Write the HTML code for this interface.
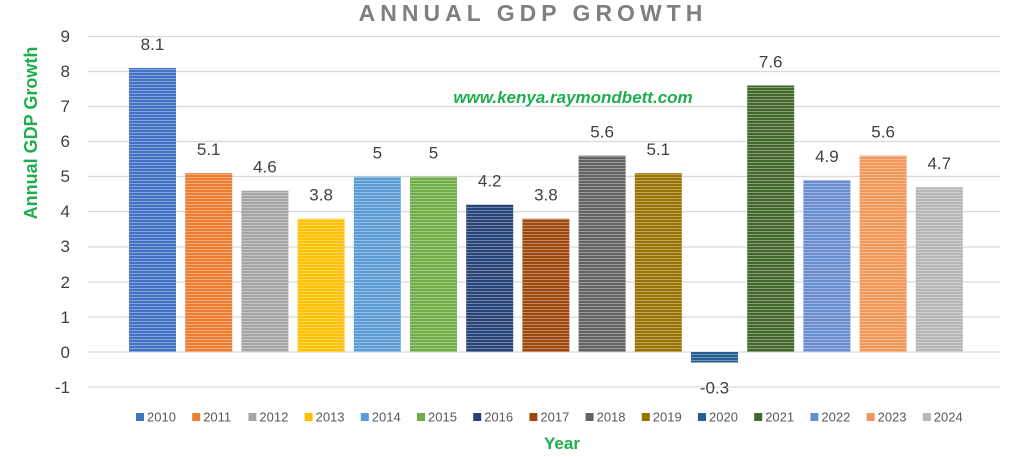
<!DOCTYPE html>
<html><head><meta charset="utf-8"><style>
html,body{margin:0;padding:0;background:#fff;width:1024px;height:457px;overflow:hidden}
svg{display:block;font-family:"Liberation Sans",sans-serif}
</style></head><body>
<svg width="1024" height="457" viewBox="0 0 1024 457" xmlns="http://www.w3.org/2000/svg">
<defs>
<pattern id="st" width="4" height="3" patternUnits="userSpaceOnUse">
<rect width="4" height="1" fill="rgba(255,255,255,0.35)"/>
</pattern>
</defs>
<text x="533" y="21" text-anchor="middle" font-size="23" font-weight="bold" fill="#7f7f7f" letter-spacing="5">ANNUAL GDP GROWTH</text>
<g stroke="#d9d9d9" stroke-width="1.2">
<line x1="88" x2="1000" y1="36.5" y2="36.5"/>
<line x1="88" x2="1000" y1="71.5" y2="71.5"/>
<line x1="88" x2="1000" y1="106.5" y2="106.5"/>
<line x1="88" x2="1000" y1="141.5" y2="141.5"/>
<line x1="88" x2="1000" y1="176.5" y2="176.5"/>
<line x1="88" x2="1000" y1="211.5" y2="211.5"/>
<line x1="88" x2="1000" y1="247" y2="247"/>
<line x1="88" x2="1000" y1="282" y2="282"/>
<line x1="88" x2="1000" y1="317" y2="317"/>
<line x1="88" x2="1000" y1="352" y2="352"/>
<line x1="88" x2="1000" y1="387" y2="387"/>
</g>
<g font-size="17" fill="#404040" text-anchor="end">
<text x="70" y="42">9</text><text x="70" y="77">8</text><text x="70" y="112">7</text><text x="70" y="147">6</text><text x="70" y="182">5</text><text x="70" y="217">4</text><text x="70" y="252">3</text><text x="70" y="288">2</text><text x="70" y="323">1</text><text x="70" y="358">0</text><text x="70" y="393">-1</text>
</g>
<text transform="translate(37,133) rotate(-90)" text-anchor="middle" font-size="18" font-weight="bold" fill="#1fae4f">Annual GDP Growth</text>
<text x="573" y="103" text-anchor="middle" font-size="17" font-style="italic" font-weight="bold" fill="#1fae4f">www.kenya.raymondbett.com</text>
<text x="562" y="449" text-anchor="middle" font-size="17" font-weight="bold" fill="#1fae4f">Year</text>
<g id="bars"></g>
<g id="labels" font-size="17" fill="#404040" text-anchor="middle"></g>
<g id="legend" font-size="13" fill="#595959"></g>
</svg>
<script>
(function(){
var v=[8.1,5.1,4.6,3.8,5,5,4.2,3.8,5.6,5.1,-0.3,7.6,4.9,5.6,4.7];
var c=["#4472C4","#ED7D31","#A5A5A5","#FFC000","#5B9BD5","#70AD47","#264478","#9E480E","#636363","#997300","#255E91","#43682B","#698ED0","#F1975A","#B7B7B7"];
var ns="http://www.w3.org/2000/svg",b=document.getElementById("bars"),l=document.getElementById("labels"),g=document.getElementById("legend");
function el(t,a,p){var e=document.createElementNS(ns,t);for(var k in a)e.setAttribute(k,a[k]);p.appendChild(e);return e;}
var u=35.07,z=352;
for(var i=0;i<15;i++){
 var x=129+i*56.2,w=47,ty=v[i]>=0?z-v[i]*u:z,h=Math.abs(v[i])*u;
 el("rect",{x:x,y:ty,width:w,height:h,fill:c[i]},b);
 el("rect",{x:x,y:ty,width:w,height:h,fill:"url(#st)"},b);
 var t=el("text",{x:x+w/2,y:v[i]>=0?ty-18:z+h+31},l);t.textContent=String(v[i]);
 var lx=136+i*56.2;
 el("rect",{x:lx,y:413,width:8,height:8,fill:c[i]},g);
 var tt=el("text",{x:lx+11,y:421.5},g);tt.textContent=String(2010+i);
}
})();
</script>
</body></html>
